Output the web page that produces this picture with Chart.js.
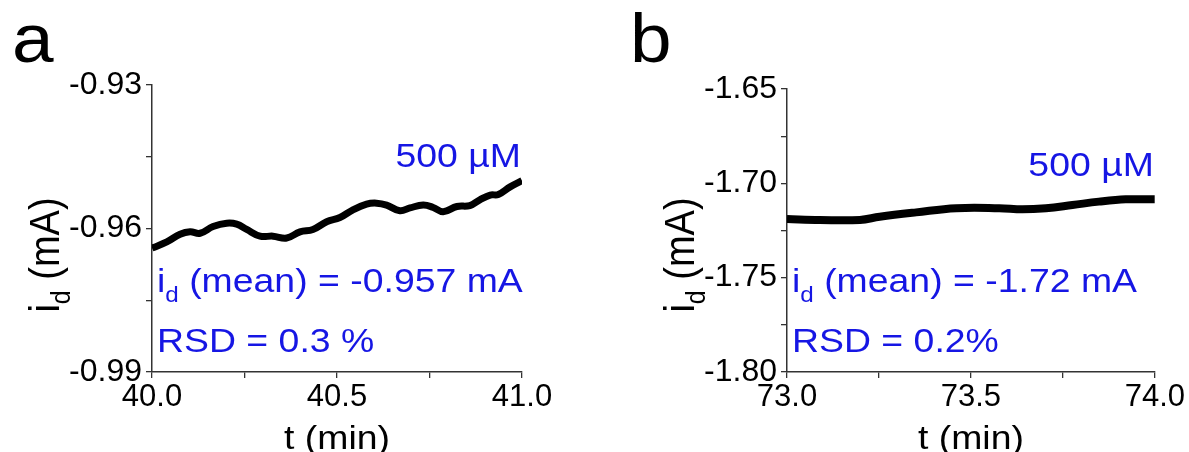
<!DOCTYPE html>
<html>
<head>
<meta charset="utf-8">
<script src="https://cdn.jsdelivr.net/npm/chart.js@4.4.1/dist/chart.umd.min.js"></script>
<style>
  body { margin: 0; background: #fff; }
  .panel { position: absolute; top: 0; }
</style>
</head>
<body>
<div class="panel" style="left:0"><canvas id="chartA" width="594" height="452"></canvas></div>
<div class="panel" style="left:594px"><canvas id="chartB" width="595" height="452"></canvas></div>
<script>
// panel a : 40 - 41 min
const timeA = [40.000, 40.040, 40.076, 40.103, 40.130, 40.165, 40.202, 40.229, 40.256, 40.292,
  40.327, 40.364, 40.400, 40.435, 40.472, 40.508, 40.543, 40.580, 40.607, 40.634,
  40.670, 40.697, 40.733, 40.760, 40.787, 40.824, 40.859, 40.886, 40.914, 40.936,
  40.968, 41.000];
const currentA = [-0.9641, -0.9628, -0.9612, -0.9607, -0.9610, -0.9596, -0.9589, -0.9591, -0.9602, -0.9616,
  -0.9616, -0.9620, -0.9607, -0.9602, -0.9586, -0.9577, -0.9561, -0.9549, -0.9547, -0.9551,
  -0.9563, -0.9557, -0.9551, -0.9556, -0.9565, -0.9554, -0.9552, -0.9540, -0.9530, -0.9529,
  -0.9513, -0.9500];
const yTicksA = [-0.99, -0.96, -0.93];
const xTicksA = [40.0, 40.5, 41.0];

// panel b : 73 - 74 min
const timeB = [73.000, 73.089, 73.198, 73.252, 73.351, 73.460, 73.577, 73.640, 73.704, 73.776,
  73.848, 73.921, 74.000];
const currentB = [-1.7189, -1.7194, -1.7194, -1.7177, -1.7154, -1.7132, -1.7132, -1.7138, -1.7132, -1.7115,
  -1.7097, -1.7085, -1.7085];
const yTicksB = [-1.80, -1.75, -1.70, -1.65];
const xTicksB = [73.0, 73.5, 74.0];

const FONT = '"Liberation Sans", Arial, sans-serif';
const BLUE = '#1616e4';
const SX = 1.1; // the figure text is a little wider than tall

// draw a run of text pieces (for subscripts), stretched horizontally
function richText(ctx, parts, x, y, align, color, rotate) {
  ctx.save();
  ctx.translate(x, y);
  ctx.scale(SX, 1);
  if (rotate) ctx.rotate(-Math.PI / 2);
  ctx.fillStyle = color;
  ctx.textBaseline = 'alphabetic';
  ctx.textAlign = 'left';
  let w = 0;
  parts.forEach(p => { ctx.font = p.size + 'px ' + FONT; w += ctx.measureText(p.t).width; });
  let cx = align === 'right' ? -w : align === 'center' ? -w / 2 : 0;
  parts.forEach(p => {
    ctx.font = p.size + 'px ' + FONT;
    ctx.fillText(p.t, cx, p.dy || 0);
    cx += ctx.measureText(p.t).width;
  });
  ctx.restore();
}

const textLayer = {
  id: 'textLayer',
  afterDraw(chart, args, o) {
    const ctx = chart.ctx;
    const a = chart.chartArea;
    richText(ctx, [{ t: o.letter, size: 68 }], o.letterX, 62, 'left', '#000');
    richText(ctx, [{ t: 'i', size: 38 }, { t: 'd', size: 25, dy: 10 }, { t: ' (mA)', size: 38 }],
      a.left - 93, 255, 'center', '#000', true);
    richText(ctx, [{ t: 't (min)', size: 34 }], (a.left + a.right) / 2, 449, 'center', '#000');
    richText(ctx, [{ t: '500 µM', size: 34 }], a.right - 1, o.concY, 'right', BLUE);
    richText(ctx, [{ t: 'i', size: 34 }, { t: 'd', size: 22, dy: 10 }, { t: ' (mean) = ' + o.mean, size: 34 }],
      a.left + 5, 292, 'left', BLUE);
    richText(ctx, [{ t: o.rsd, size: 34 }], a.left + 5, 352, 'left', BLUE);
  }
};

function makeChart(id, times, values, yMin, yMax, yStep, yLabels, xMin, xMax, xLabels, yDigits, lineW, text, pad) {
  const axisColor = '#333';
  new Chart(document.getElementById(id), {
    type: 'line',
    data: {
      datasets: [{
        data: times.map((t, i) => ({ x: t, y: values[i] })),
        borderColor: '#000',
        borderWidth: lineW,
        pointRadius: 0,
        tension: 0.4,
        fill: false
      }]
    },
    options: {
      responsive: false,
      animation: false,
      devicePixelRatio: 1,
      layout: { padding: pad },
      plugins: { legend: { display: false }, tooltip: { enabled: false }, textLayer: text },
      scales: {
        x: {
          type: 'linear', min: xMin, max: xMax,
          afterFit: s => { s.height = 80; },
          ticks: {
            stepSize: 0.25, maxRotation: 0, color: '#000', padding: 4,
            font: { family: FONT, size: 31, lineHeight: 1 },
            callback: v => xLabels.some(l => Math.abs(l - v) < 1e-6) ? v.toFixed(1) : ''
          },
          grid: { drawOnChartArea: false, tickLength: 6, color: axisColor, lineWidth: 1.3 },
          border: { color: axisColor, width: 1.5 }
        },
        y: {
          min: yMin, max: yMax,
          afterFit: s => { s.width = pad.yWidth; },
          ticks: {
            stepSize: yStep, color: '#000', padding: 4,
            font: { family: FONT, size: 32 },
            callback: v => yLabels.some(l => Math.abs(l - v) < 1e-6) ? v.toFixed(yDigits) : ''
          },
          grid: { drawOnChartArea: false, tickLength: 6, color: axisColor, lineWidth: 1.3 },
          border: { color: axisColor, width: 1.5 }
        }
      }
    },
    plugins: [textLayer]
  });
}

makeChart('chartA', timeA, currentA, -0.99, -0.93, 0.015, yTicksA, 40, 41, xTicksA, 2, 7,
  { letter: 'a', letterX: 12, concY: 167, mean: '-0.957 mA', rsd: 'RSD = 0.3 %' },
  { top: 85, right: 72, bottom: 0, left: 0, yWidth: 152 });

makeChart('chartB', timeB, currentB, -1.80, -1.65, 0.025, yTicksB, 73, 74, xTicksB, 2, 8,
  { letter: 'b', letterX: 36, concY: 176, mean: '-1.72 mA', rsd: 'RSD = 0.2%' },
  { top: 89, right: 595 - 562, bottom: 0, left: 0, yWidth: 193 });
</script>
</body>
</html>
